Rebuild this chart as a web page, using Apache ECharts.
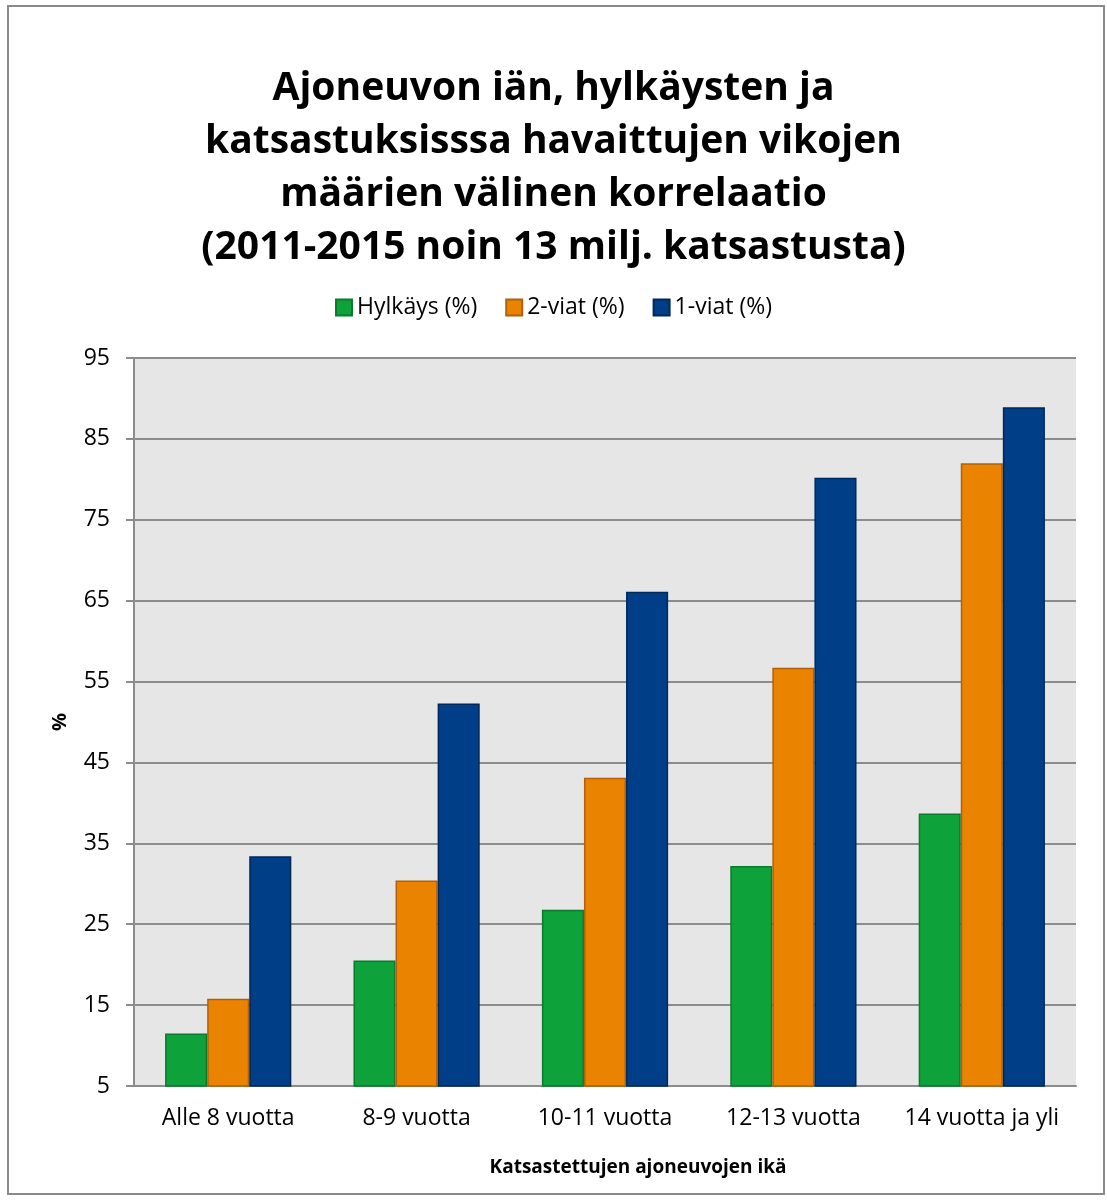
<!DOCTYPE html>
<html>
<head>
<meta charset="utf-8">
<script src="https://cdn.jsdelivr.net/npm/echarts@6/dist/echarts.min.js"></script>
<style>
  html,body{margin:0;padding:0;background:#fff;}
  #chart{width:1107px;height:1202px;}
</style>
</head>
<body>
<div id="chart"></div>
<script>
// ikäryhmät
const categories = ['Alle 8 vuotta', '8-9 vuotta', '10-11 vuotta', '12-13 vuotta', '14 vuotta ja yli']
const hylkays = [11.5, 20.5, 26.8, 32.2, 38.7]
const viat2 = [15.8, 30.4, 43.1, 56.7, 82.0]
const viat1 = [33.4, 52.3, 66.1, 80.2, 88.9]

const font = '"Open Sans", "Noto Sans", sans-serif'
const gridColor = '#8c8c8c'

let chart = echarts.init(document.getElementById('chart'))

function barSeries(name, data, color, border){
  return {
    name: name,
    type: 'bar',
    data: data,
    barGap: '0%',
    barCategoryGap: '33%',
    itemStyle: {color: color, borderColor: border, borderWidth: 1.5}
  }
}

let option = {
  animation: false,
  textStyle: {fontFamily: font},
  graphic: [{
    type: 'rect',
    shape: {x: 8, y: 6, width: 1096, height: 1188},
    style: {fill: 'none', stroke: '#8a8a8a', lineWidth: 2},
    silent: true
  }],
  title: {
    text: 'Ajoneuvon iän, hylkäysten ja\nkatsastuksisssa havaittujen vikojen\nmäärien välinen korrelaatio\n(2011-2015 noin 13 milj. katsastusta)',
    left: 'center',
    top: 57,
    textStyle: {fontSize: 39, fontWeight: 'bold', color: '#000', lineHeight: 53, fontFamily: font}
  },
  legend: {
    top: 291,
    left: 'center',
    icon: 'rect',
    itemWidth: 16,
    itemHeight: 16,
    itemGap: 28,
    textStyle: {fontSize: 23, color: '#000', fontFamily: font},
    data: ['Hylkäys (%)', '2-viat (%)', '1-viat (%)']
  },
  grid: {
    left: 134, right: 31, top: 358, bottom: 116,
    show: true, backgroundColor: '#e6e6e6', borderWidth: 0
  },
  xAxis: {
    type: 'category',
    data: categories,
    name: 'Katsastettujen ajoneuvojen ikä',
    nameLocation: 'middle',
    nameGap: 72,
    nameTextStyle: {fontSize: 19, fontWeight: 'bold', color: '#000', padding: [0, 0, 0, 66]},
    axisLine: {lineStyle: {color: gridColor, width: 2}},
    axisTick: {show: false},
    axisLabel: {fontSize: 23, color: '#000', margin: 21, interval: 0}
  },
  yAxis: {
    type: 'value',
    min: 5,
    max: 95,
    interval: 10,
    name: '%',
    nameLocation: 'middle',
    nameGap: 64,
    nameTextStyle: {fontSize: 20, fontWeight: 'bold', color: '#000'},
    axisLine: {show: true, lineStyle: {color: gridColor, width: 2}},
    axisTick: {show: true, length: 8, lineStyle: {color: gridColor, width: 2}},
    axisLabel: {fontSize: 23, color: '#000', margin: 24},
    splitLine: {lineStyle: {color: gridColor, width: 2}}
  },
  series: [
    barSeries('Hylkäys (%)', hylkays, '#0da23a', '#0a7a2c'),
    barSeries('2-viat (%)', viat2, '#ea8400', '#b0600a'),
    barSeries('1-viat (%)', viat1, '#003f87', '#00285c')
  ]
}

chart.setOption(option)
</script>
</body>
</html>
